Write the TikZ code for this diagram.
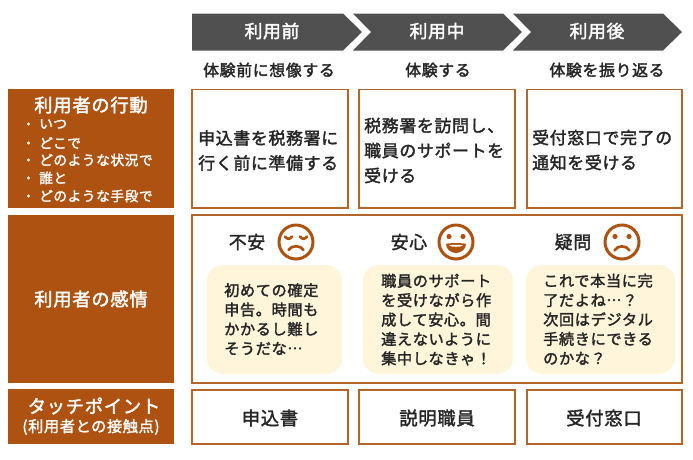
\documentclass[tikz,border=0pt]{standalone}
\usepackage{fontspec}
\setmainfont{Noto Sans CJK JP}[Script=CJK,Language=Japanese,FakeBold=2,LetterSpace=4]
\definecolor{brn}{HTML}{AE5212}
\definecolor{edge}{HTML}{B5652A}
\definecolor{hdr}{HTML}{505050}
\definecolor{cream}{HTML}{FFF5DA}
\definecolor{ink}{HTML}{262626}
\tikzset{x=1pt,y=-1pt,
 cellbox/.style={draw=edge,line width=1.3pt,fill=white},
 sidebox/.style={fill=brn},
 bubble/.style={fill=cream,rounded corners=16pt},
 chev/.style={fill=hdr},
 txt/.style={inner sep=0pt,text=ink,font=\fontsize{16.9}{25}\selectfont},
 subt/.style={txt,font=\fontsize{15.9}{20}\selectfont},
 lab/.style={txt,font=\fontsize{17.8}{20}\selectfont},
 tp/.style={txt,font=\fontsize{18.3}{20}\selectfont},
 hd/.style={inner sep=0pt,text=white,font=\fontsize{17.8}{20}\selectfont},
 side/.style={inner sep=0pt,text=white,font=\fontsize{18.3}{20}\selectfont},
 lst/.style={inner sep=0pt,anchor=west,text=white,font=\fontsize{13.7}{14}\selectfont},
 bub/.style={inner sep=0pt,anchor=north west,align=left,text=ink,font=\fontsize{15.2}{19.4}\selectfont},
 face/.style={draw=brn,line width=3pt,fill=white},
 feat/.style={draw=brn,line width=2.7pt,line cap=round},
}
\begin{document}
\begin{tikzpicture}
\useasboundingbox (0,0) rectangle (693,459);
\fill[white] (0,0) rectangle (693,459);
% header chevrons
\fill[chev] (192,13.5) -- (343,13.5) -- (362,32) -- (343,50.5) -- (192,50.5) -- cycle;
\fill[chev] (353,13.5) -- (503,13.5) -- (522,32) -- (503,50.5) -- (353,50.5) -- (371,32) -- cycle;
\fill[chev] (513,13.5) -- (663,13.5) -- (682,32) -- (663,50.5) -- (513,50.5) -- (531,32) -- cycle;
\node[hd] (h1) at (272,31) {利用前};
\node[hd] (h2) at (437,31) {利用中};
\node[hd] (h3) at (597,31) {利用後};
\node[subt] (s1) at (269,70) {体験前に想像する};
\node[subt] (s2) at (438,70) {体験する};
\node[subt] (s3) at (607,70) {体験を振り返る};
% side boxes
\fill[sidebox] (8,89) rectangle (174,208);
\fill[sidebox] (8,215) rectangle (174,383);
\fill[sidebox] (8,389) rectangle (174,444);
\node[side] (a0) at (91,105) {利用者の行動};
\foreach \y/\t [count=\i] in {124/いつ,143/どこで,160/どのような状況で,178/誰と,196/どのような手段で}{
  \fill[white] (28.5,\y) circle (1.7);
  \node[lst] (a\i) at (39,\y) {\t};
}
\node[side] (b0) at (91,299) {利用者の感情};
\node[side] (c0) at (94,406) {タッチポイント};
\node[inner sep=0pt,text=white,font=\fontsize{15.2}{16}\selectfont] (c1) at (91,427) {(利用者との接触点)};
% row 1
\draw[cellbox] (192,89.5) rectangle (348,208);
\draw[cellbox] (359,89.5) rectangle (515,208);
\draw[cellbox] (527,89.5) rectangle (682,208);
\node[txt,anchor=west,align=left] (r1) at (198,150.5) {申込書を税務署に\\行く前に準備する};
\node[txt,anchor=west,align=left] (r2) at (364,150.5) {税務署を訪問し、\\職員のサポートを\\受ける};
\node[txt,anchor=west,align=left] (r3) at (532,150) {受付窓口で完了の\\通知を受ける};
% row 2
\draw[cellbox] (192,215) rectangle (682,383);
\node[lab] (l1) at (247,242) {不安};
\node[lab] (l2) at (409,242) {安心};
\node[lab] (l3) at (573,242) {疑問};
\fill[bubble] (207,265) rectangle (342,374);
\fill[bubble] (363,265) rectangle (513,374);
\fill[bubble] (526,265) rectangle (675,374);
\node[bub] (t1) at (224,283) {初めての確定\\申告。時間も\\かかるし難し\\そうだな…};
\node[bub] (t2) at (381,273.5) {職員のサポート\\を受けながら作\\成して安心。間\\違えないように\\集中しなきゃ！};
\node[bub] (t3) at (543,273.5) {これで本当に完\\了だよね…？\\次回はデジタル\\手続きにできる\\のかな？};
% faces
\draw[face] (296,242) circle (17);
\draw[feat] (285,236.5) .. controls (287,239.5) and (290,239.5) .. (292,236.5);
\draw[feat] (300,236.5) .. controls (302,239.5) and (305,239.5) .. (307,236.5);
\draw[feat] (288.5,250) .. controls (291,245) and (301,245) .. (303.5,250);
\draw[face] (456,242) circle (17);
\fill[brn] (449,236.5) circle (2.6);
\fill[brn] (463,236.5) circle (2.6);
\fill[brn] (446,244) .. controls (448,242.8) and (464,242.8) .. (466,244) .. controls (466,249) and (461,253) .. (456,253) .. controls (451,253) and (446,249) .. (446,244) -- cycle;
\fill[white] (449,245.3) .. controls (452,244.7) and (460,244.7) .. (463,245.3) .. controls (462,247.3) and (450,247.3) .. (449,245.3) -- cycle;
\draw[face] (622,242) circle (17);
\fill[brn] (615,236.5) circle (2.6);
\fill[brn] (629,236.5) circle (2.6);
\draw[feat] (614.5,250.5) .. controls (617,245) and (627,245) .. (629.5,250.5);
% row 3
\draw[cellbox] (192,390) rectangle (348,444);
\draw[cellbox] (359,390) rectangle (515,444);
\draw[cellbox] (527,390) rectangle (682,444);
\node[tp] (p1) at (270,418) {申込書};
\node[tp] (p2) at (437,418) {説明職員};
\node[tp] (p3) at (604,418) {受付窓口};
\end{tikzpicture}
\end{document}
